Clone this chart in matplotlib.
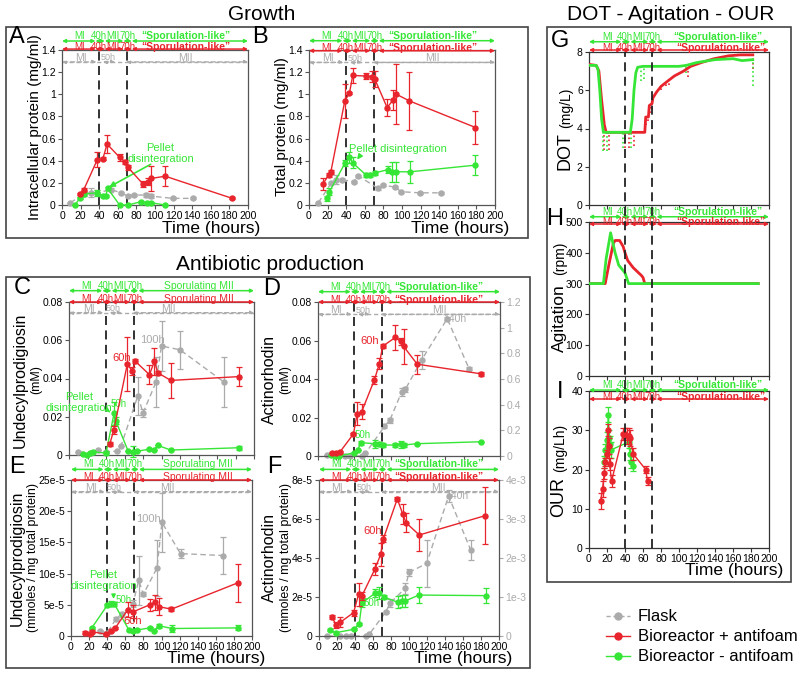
import matplotlib
matplotlib.use('Agg')
import matplotlib.pyplot as plt
import matplotlib.transforms as mtransforms
from matplotlib.lines import Line2D
from matplotlib.patches import Rectangle

plt.rcParams['font.family'] = ['Liberation Sans', 'DejaVu Sans']

W, H = 800, 675
RED = '#e8242c'
GREEN = '#36e636'
GRAY = '#ababab'
SPINE = '#555555'

# ---------------- data ----------------
# A: intracellular protein (mg/ml)
a_red_t = [19, 23.5, 38, 44, 48.5, 62, 68, 71, 87, 92, 96, 111, 183]
a_red_v = [0.10, 0.14, 0.41, 0.42, 0.55, 0.43, 0.39, 0.34, 0.19, 0.21, 0.24, 0.26, 0.06]
a_red_e = [0.01, 0.01, 0.07, 0.01, 0.08, 0.03, 0.02, 0.02, 0.03, 0.03, 0.11, 0.09, 0.01]
a_grn_t = [14, 19, 24, 38, 44, 47, 49, 62, 71, 85, 91, 96, 111]
a_grn_v = [0.0, 0.06, 0.10, 0.11, 0.08, 0.08, 0.15, 0.0, 0.0, 0.03, 0.02, 0.02, 0.0]
a_grn_e = [0.0, 0.01, 0.02, 0.03, 0.01, 0.01, 0.01, 0.0, 0.0, 0.01, 0.01, 0.01, 0.0]
a_fl_t = [9, 23.5, 31, 38, 53, 63, 71, 77, 90, 96, 119, 141]
a_fl_v = [0.02, 0.10, 0.11, 0.11, 0.14, 0.11, 0.08, 0.09, 0.09, 0.08, 0.06, 0.06]
a_fl_e = [0.0, 0.02, 0.04, 0.03, 0.01, 0.01, 0.01, 0.01, 0.02, 0.02, 0.01, 0.01]

# B: total protein (mg/ml)
b_red_t = [15, 21, 23.5, 38.5, 43.5, 47, 61, 68, 70.6, 84, 90.6, 94, 108, 179]
b_red_v = [0.19, 0.27, 0.30, 0.94, 1.01, 1.17, 1.165, 1.16, 1.14, 0.88, 0.95, 1.0, 0.94, 0.70]
b_red_e = [0.05, 0.02, 0.02, 0.15, 0.01, 0.07, 0.03, 0.05, 0.07, 0.08, 0.09, 0.27, 0.26, 0.15]
b_grn_t = [19, 22, 38.8, 43.5, 47, 61.5, 66, 71, 85, 89, 93.8, 109, 179]
b_grn_v = [0.06, 0.12, 0.38, 0.43, 0.38, 0.27, 0.27, 0.29, 0.32, 0.30, 0.30, 0.30, 0.36]
b_grn_e = [0.02, 0.03, 0.03, 0.05, 0.05, 0.02, 0.02, 0.02, 0.03, 0.09, 0.09, 0.10, 0.09]
b_fl_t = [10, 24, 29, 35, 48, 53, 74, 80, 93, 99, 119, 142]
b_fl_v = [0.02, 0.20, 0.23, 0.23, 0.21, 0.265, 0.15, 0.18, 0.16, 0.12, 0.11, 0.11]
b_fl_e = [0.0, 0.01, 0.04, 0.01, 0.01, 0.01, 0.01, 0.01, 0.01, 0.01, 0.01, 0.01]

# C: undecylprodigiosin (mM)
c_red_t = [44, 48.4, 63, 68.5, 71.7, 87, 92.3, 96, 110, 184]
c_red_v = [0.0056, 0.013, 0.0475, 0.044, 0.049, 0.042, 0.049, 0.043, 0.039, 0.041]
c_red_e = [0.001, 0.002, 0.014, 0.002, 0.001, 0.005, 0.007, 0.001, 0.009, 0.005]
c_grn_t = [15, 19, 22.6, 25.5, 40, 48.7, 50.5, 64, 69, 74, 86.5, 91.7, 96, 110, 184]
c_grn_v = [0.0005, 0.0, 0.001, 0.0017, 0.001, 0.0217, 0.018, 0.002, 0.0017, 0.002, 0.003, 0.0026, 0.005, 0.0026, 0.0038]
c_grn_e = [0, 0, 0, 0, 0.001, 0.006, 0.002, 0, 0.003, 0, 0, 0, 0, 0, 0.001]
c_fl_t = [10, 24, 31, 40, 52, 56, 74.5, 80, 94, 100, 120, 168]
c_fl_v = [0.0017, 0.001, 0.0026, 0.0016, 0.002, 0.0045, 0.031, 0.022, 0.038, 0.057, 0.055, 0.038]
c_fl_e = [0, 0, 0, 0, 0, 0, 0.010, 0.002, 0.013, 0.013, 0.010, 0.013]

# D: actinorhodin (mM); flask on right axis
d_red_t = [15, 20, 24, 39, 43, 48, 62, 67.5, 71, 85, 90.7, 94, 109, 179]
d_red_v = [0.0014, 0.0017, 0.002, 0.0115, 0.022, 0.023, 0.0396, 0.048, 0.057, 0.0616, 0.0595, 0.057, 0.0477, 0.0427]
d_red_e = [0.0005, 0.0005, 0.0005, 0.0005, 0.006, 0.004, 0.002, 0.003, 0.001, 0.0065, 0.002, 0.009, 0.005, 0.001]
d_grn_t = [14.6, 19, 23, 40, 43.5, 47, 63, 67, 71, 85, 90.7, 94, 109, 179]
d_grn_v = [0.0003, 0.0, 0.0, 0.0017, 0.003, 0.0069, 0.0064, 0.0064, 0.0057, 0.0057, 0.006, 0.0057, 0.0064, 0.0074]
d_grn_e = [0, 0, 0, 0, 0, 0.001, 0.002, 0.001, 0.001, 0.001, 0.002, 0.001, 0, 0]
d_fl_t = [10, 24, 30, 35, 48, 52, 73, 79, 92, 96, 114, 142, 166]
d_fl_v = [0.005, 0.005, 0.0, 0.0, 0.0, 0.02, 0.23, 0.28, 0.50, 0.52, 0.75, 1.07, 0.68]
d_fl_e = [0, 0, 0, 0, 0, 0, 0.01, 0.02, 0.03, 0.02, 0.07, 0.01, 0.01]

# E: undecylprodigiosin (mmoles / mg total protein), values in units of 1e-5
e_red_t = [15, 20.6, 23, 39, 44.6, 49, 62.6, 69, 87, 92.5, 97, 111, 184]
e_red_v = [0.53, 0.3, 0.7, 0.27, 0.85, 1.3, 4.2, 3.9, 5.0, 5.4, 4.7, 4.3, 8.5]
e_red_e = [0.2, 0.1, 0.2, 0.1, 0.2, 0.2, 1.2, 1.0, 1.0, 1.2, 1.4, 0.3, 3.0]
e_grn_t = [23, 40, 44.6, 48, 64, 69, 73, 87, 92, 97, 111.6, 184]
e_grn_v = [1.3, 4.9, 5.2, 5.1, 0.96, 0.8, 0.96, 1.3, 0.85, 1.65, 1.2, 1.3]
e_grn_e = [0.1, 0.3, 0.4, 0.3, 0.1, 0.1, 0.1, 0.1, 0.1, 0.3, 0.5, 0.4]
e_fl_t = [32, 40, 50, 56, 68.5, 74.8, 80, 95, 100.5, 121, 168]
e_fl_v = [0.8, 0.5, 2.8, 3.5, 5.2, 8.9, 6.7, 10.9, 18.2, 13.2, 12.9]
e_fl_e = [0.1, 0.1, 0.3, 0.4, 0.5, 4.0, 0.3, 4.5, 4.7, 0.7, 2.9]

# F: actinorhodin (mmoles / mg total protein), left in 1e-5, flask right in 1e-3
f_red_t = [14.4, 19, 23.6, 38.4, 44, 47.6, 62, 68.6, 71.6, 87, 93, 96.7, 111.4, 184.5]
f_red_v = [0.99, 0.55, 0.7, 1.2, 2.14, 2.05, 3.42, 4.19, 5.0, 7.03, 6.26, 5.81, 5.18, 6.17]
f_red_e = [0.1, 0.15, 0.25, 0.15, 0.6, 0.2, 0.3, 0.6, 0.2, 0.1, 0.5, 0.5, 0.8, 1.45]
f_grn_t = [12, 18.5, 38.4, 44.6, 47.6, 62, 66.8, 72, 87.5, 92, 96, 111, 185]
f_grn_v = [0.3, 0.17, 0.34, 0.6, 1.68, 2.19, 2.22, 2.0, 1.73, 1.8, 1.8, 2.1, 2.07]
f_grn_e = [0.05, 0.05, 0.05, 0.05, 0.2, 0.2, 0.3, 0.1, 0.3, 0.3, 0.3, 0.4, 0.4]
f_fl_t = [9, 23, 30, 35, 52, 56, 74, 79, 95.6, 100, 119.6, 144, 168.6]
f_fl_v = [0.0, 0.0, 0.0, 0.0, 0.0, 0.05, 0.61, 0.84, 1.22, 1.63, 1.86, 3.59, 2.2]
f_fl_e = [0, 0, 0, 0, 0, 0, 0.03, 0.1, 0.15, 0.08, 0.6, 0.15, 0.25]

# G: DOT (mg/L)
g_red_t = [0, 8, 11, 14, 17, 19, 62, 63, 66, 67, 70, 71, 75, 80, 88, 95, 105, 113, 125, 139, 155, 168, 182]
g_red_v = [7.35, 7.3, 7.0, 5.5, 4.2, 3.8, 3.8, 4.6, 4.6, 5.2, 5.3, 5.6, 5.9, 6.2, 6.5, 6.75, 7.0, 7.25, 7.45, 7.65, 7.8, 7.85, 7.85]
g_grn_t = [0, 8, 10, 12, 14, 16, 46, 48, 50, 52, 54, 60, 80, 100, 108, 120, 140, 160, 170, 182]
g_grn_v = [7.3, 7.3, 7.1, 6.0, 4.5, 3.8, 3.8, 4.5, 6.0, 6.9, 7.2, 7.25, 7.25, 7.25, 7.3, 7.45, 7.6, 7.65, 7.55, 7.6]
g_red_sp_t = [17, 22, 40, 44, 50, 63, 66, 68, 70, 80, 85, 89, 110, 182]
g_red_sp_lo = [2.9, 2.9, 3.0, 3.0, 3.1, 4.2, 4.4, 4.8, 5.0, 6.0, 6.2, 6.3, 6.7, 7.1]
g_red_sp_hi = [3.8, 3.8, 3.8, 3.8, 3.8, 4.6, 4.6, 5.2, 5.4, 6.2, 6.4, 6.55, 7.05, 7.85]
g_grn_sp_t = [16, 20, 38, 47, 58, 61, 108, 182]
g_grn_sp_lo = [2.8, 2.8, 3.0, 3.0, 6.5, 6.6, 6.9, 6.2]
g_grn_sp_hi = [3.8, 3.8, 3.8, 3.8, 7.25, 7.25, 7.3, 7.6]

# H: agitation (rpm)
h_red_t = [0, 18, 22, 27, 29, 34, 38, 40, 43, 49, 54, 58, 60, 62, 188]
h_red_v = [300, 300, 360, 430, 440, 440, 420, 400, 375, 352, 338, 327, 320, 300, 300]
h_grn_t = [0, 16, 19, 24, 29, 33, 40, 44, 188]
h_grn_v = [300, 300, 380, 465, 400, 360, 335, 300, 300]

# I: OUR (mg/Lh)
i_red_t = [13, 15, 17, 18, 20, 21, 22, 23, 25, 38, 40, 42, 44, 46, 49, 63, 65]
i_red_v = [12, 15, 19, 22, 24, 30, 26, 21.5, 17, 29, 29, 28.5, 28.5, 28, 24, 20, 17]
i_red_e = [2, 2, 1.5, 1, 1, 1.5, 2, 1.5, 1.5, 1.5, 1.5, 2, 2, 2, 1.5, 1, 1]
i_grn_t = [17, 18, 20, 21.5, 22.5, 23.5, 24.5, 44, 45.5, 47, 49]
i_grn_v = [22, 25, 27.5, 34, 28, 26.5, 25, 27, 24, 22, 21]
i_grn_e = [1.5, 1.5, 2, 1.8, 2, 2, 2, 1.5, 1.5, 1.5, 1.5]

# phase labels
ph_std = ['MI', '40h', 'MII', '70h', '\u201cSporulation-like\u201d']
ph_upd = ['MI', '40h', 'MII', '70h', 'Sporulating MII']
ph_flask = ['MI', '50h', 'MII']

# ---------------- helpers ----------------
fig = plt.figure(figsize=(8, 6.75), dpi=100)
TICK_FS = 7.5


def add_ax(x0, y0, x1, y1):
    return fig.add_axes([x0 / W, 1 - y1 / H, (x1 - x0) / W, (y1 - y0) / H])


def style(ax, yticks, ylabels, xlabels=True, spine=SPINE):
    ax.set_xlim(0, 200)
    ax.set_xticks(range(0, 201, 20))
    if not xlabels:
        ax.set_xticklabels([])
    ax.set_yticks(yticks)
    ax.set_yticklabels(ylabels)
    ax.set_ylim(yticks[0], yticks[-1])
    for s in ax.spines.values():
        s.set_color(spine)
        s.set_linewidth(0.9)
    ax.tick_params(labelsize=TICK_FS, length=3, width=0.8, color=spine, pad=1.5)


def series(ax, t, v, e, color, dashed=False, z=3, ms=3.6):
    kw = dict(color=color, lw=1.0, marker='o', ms=ms, mec=color, capsize=2,
              elinewidth=0.9, capthick=0.9, zorder=z, clip_on=False)
    if dashed:
        kw['ls'] = (0, (4, 2.5))
    ax.errorbar(t, v, yerr=e, **kw)


def row(ax, y, color, segs, labels, dy, ls='-'):
    tr = mtransforms.blended_transform_factory(ax.transData, ax.transAxes)
    for a, b in segs:
        ax.annotate('', xy=(b, y), xytext=(a, y), xycoords=tr, textcoords=tr,
                    arrowprops=dict(arrowstyle='<|-|>', color=color, lw=1.1, ls=ls,
                                    shrinkA=0, shrinkB=0, mutation_scale=5),
                    annotation_clip=False)
    n = len(labels)
    for i, (x, s) in enumerate(labels):
        last = (i == n - 1)
        w = 'bold' if (last and s.startswith('\u201c')) else 'normal'
        ax.annotate(s, xy=(x, y), xycoords=tr, xytext=(0, dy), textcoords='offset points',
                    ha='center', va='center', color=color, fontsize=7.5 if last else 7,
                    fontweight=w, annotation_clip=False)


SEGS = [(0, 36), (36, 46), (46, 66), (66, 75), (75, 200)]
POS_STD = (19, 39.5, 55, 70.5, 133)
POS_UPD = (19, 39.5, 55, 70.5, 140)
POS_DOT_G = (21, 39.5, 55.5, 71, 143)
POS_DOT_R = (21, 39.5, 55.5, 71, 147)


def phases(ax, yg, yr, yf, names, pos=POS_STD):
    labs = list(zip(pos, names))
    row(ax, yg, GREEN, SEGS, labs, 3.6)
    row(ax, yr, RED, SEGS, labs, 1.8)
    fsegs = [(0, 37), (44, 57), (69, 200)]
    fpos = [20, 50, 133] if names[-1].startswith('\u201c') else [22, 48, 107]
    tr = mtransforms.blended_transform_factory(ax.transData, ax.transAxes)
    for a, b in fsegs:
        ax.annotate('', xy=(b, yf), xytext=(a, yf), xycoords=tr, textcoords=tr,
                    arrowprops=dict(arrowstyle='<|-|>', color=GRAY, lw=1.0, ls=(0, (3, 2)),
                                    shrinkA=0, shrinkB=0, mutation_scale=5),
                    annotation_clip=False)
    ax.plot([0, 200], [yf, yf], transform=tr, color=GRAY, lw=1.0, ls=(0, (3, 2)), clip_on=False)
    for x, s in zip(fpos, ph_flask):
        ax.annotate(s, xy=(x, yf), xycoords=tr, xytext=(0, 3), textcoords='offset points',
                    ha='center', va='center', color=GRAY,
                    fontsize=6.5 if s == '50h' else 7.5, annotation_clip=False)


def vdash(ax):
    for x in (40, 70):
        ax.axvline(x, color='#222222', lw=1.3, ls=(0, (5, 3)), zorder=2)


def ylab(xpx, ypx, text, fs):
    fig.text(xpx / W, 1 - ypx / H, text, rotation=90, ha='center', va='center', fontsize=fs)


def xlab(rightpx, ypx):
    fig.text(rightpx / W, 1 - ypx / H, 'Time (hours)', ha='right', va='center', fontsize=12.5)


def letter(xpx, ypx, s):
    fig.text(xpx / W, 1 - ypx / H, s, ha='center', va='center', fontsize=17)


def right_axis(ax, lim, ticks, labels):
    ax2 = ax.twinx()
    ax2.set_ylim(*lim)
    ax2.set_yticks(ticks)
    ax2.set_yticklabels(labels)
    ax2.tick_params(labelsize=TICK_FS, length=3, width=0.8, color=GRAY, labelcolor=GRAY, pad=1.5)
    for s in ax2.spines.values():
        s.set_visible(False)
    return ax2


# ---------------- frames & titles ----------------
for (x0, y0, x1, y1) in [(6, 27, 528, 238), (6, 277, 530, 668), (547, 27, 791, 582)]:
    fig.add_artist(Rectangle((x0 / W, 1 - y1 / H), (x1 - x0) / W, (y1 - y0) / H,
                             transform=fig.transFigure, fill=False, ec='#444444', lw=1.2))
fig.text(262 / W, 1 - 15 / H, 'Growth', ha='center', va='center', fontsize=15)
fig.text(270 / W, 1 - 265 / H, 'Antibiotic production', ha='center', va='center', fontsize=15)
fig.text(671 / W, 1 - 15 / H, 'DOT - Agitation - OUR', ha='center', va='center', fontsize=15)

# ---------------- A ----------------
axA = add_ax(62, 50, 248, 205)
style(axA, [0, 0.2, 0.4, 0.6, 0.8, 1.0, 1.2, 1.4], ['0', '0.2', '0.4', '0.6', '0.8', '1', '1.2', '1.4'])
vdash(axA)
series(axA, a_fl_t, a_fl_v, a_fl_e, GRAY, dashed=True, z=3)
series(axA, a_grn_t, a_grn_v, a_grn_e, GREEN, z=4)
series(axA, a_red_t, a_red_v, a_red_e, RED, z=5)
phases(axA, 1.058, 1.006, 0.923, ph_std)
axA.text(106, 0.465, 'Pellet\ndisintegration', color=GREEN, fontsize=8, ha='center', va='center', linespacing=1.1)
axA.annotate('', xy=(48, 0.15), xytext=(98, 0.38),
             arrowprops=dict(arrowstyle='-|>', color=GREEN, lw=1.2, mutation_scale=8))
ylab(35, 127, 'Intracellular protein (mg/ml)', 11)
xlab(260, 229)
letter(17, 37, 'A')

# ---------------- B ----------------
axB = add_ax(309, 50, 495, 205)
style(axB, [0, 0.2, 0.4, 0.6, 0.8, 1.0, 1.2, 1.4], ['0', '0.2', '0.4', '0.6', '0.8', '1', '1.2', '1.4'])
vdash(axB)
series(axB, b_fl_t, b_fl_v, b_fl_e, GRAY, dashed=True, z=3)
series(axB, b_grn_t, b_grn_v, b_grn_e, GREEN, z=4)
series(axB, b_red_t, b_red_v, b_red_e, RED, z=5)
phases(axB, 1.06, 0.995, 0.92, ph_std)
axB.text(96, 0.51, 'Pellet disintegration', color=GREEN, fontsize=8, ha='center', va='center')
axB.annotate('', xy=(50, 0.39), xytext=(57, 0.47),
             arrowprops=dict(arrowstyle='-|>', color=GREEN, lw=1.2, mutation_scale=7))
ylab(282, 127, 'Total protein (mg/ml)', 11)
xlab(509, 229)
letter(260, 37, 'B')

# ---------------- C ----------------
axC = add_ax(69, 302, 254, 455)
style(axC, [0, 0.02, 0.04, 0.06, 0.08], ['0', '0.02', '0.04', '0.06', '0.08'], xlabels=False)
vdash(axC)
series(axC, c_fl_t, c_fl_v, c_fl_e, GRAY, dashed=True, z=3)
series(axC, c_grn_t, c_grn_v, c_grn_e, GREEN, z=4)
series(axC, c_red_t, c_red_v, c_red_e, RED, z=5)
phases(axC, 1.074, 1.0, 0.93, ph_upd, pos=POS_UPD)
axC.text(11, 0.0275, 'Pellet\ndisintegration', color=GREEN, fontsize=8, ha='center', va='center',
         linespacing=1.1, clip_on=False)
axC.annotate('', xy=(47, 0.0215), xytext=(41, 0.0236),
             arrowprops=dict(arrowstyle='-|>', color=GREEN, lw=1.0, mutation_scale=6))
axC.text(54, 0.0268, '50h', color=GREEN, fontsize=7, ha='center', va='center')
axC.text(57, 0.0505, '60h', color=RED, fontsize=8, ha='center', va='center')
axC.text(90, 0.060, '100h', color=GRAY, fontsize=8, ha='center', va='center')
ylab(20, 380, 'Undecylprodigiosin', 11.5)
ylab(36, 380, '(mM)', 9)
letter(22, 288, 'C')

# ---------------- D ----------------
axD = add_ax(318, 302, 500, 456)
style(axD, [0, 0.02, 0.04, 0.06, 0.08], ['0', '0.02', '0.04', '0.06', '0.08'], xlabels=False)
axD2 = right_axis(axD, (0, 1.2), [0, 0.2, 0.4, 0.6, 0.8, 1.0, 1.2], ['0', '0.2', '0.4', '0.6', '0.8', '1', '1.2'])
vdash(axD)
series(axD2, d_fl_t, d_fl_v, d_fl_e, GRAY, dashed=True, z=3)
series(axD, d_grn_t, d_grn_v, d_grn_e, GREEN, z=4)
series(axD, d_red_t, d_red_v, d_red_e, RED, z=5)
axD.set_zorder(axD2.get_zorder() + 1)
axD.patch.set_visible(False)
phases(axD, 1.067, 1.0, 0.92, ph_std)
axD.text(57, 0.0600, '60h', color=RED, fontsize=8, ha='center', va='center')
axD.text(49, 0.0110, '50h', color=GREEN, fontsize=7, ha='center', va='center')
axD.text(150, 0.0714, '140h', color=GRAY, fontsize=7.5, ha='center', va='center')
ylab(269, 380, 'Actinorhodin', 11.5)
ylab(285, 380, '(mM)', 9)
letter(272, 289, 'D')

# ---------------- E ----------------
axE = add_ax(71, 480, 252, 636)
style(axE, [0, 5, 10, 15, 20, 25], ['0', '5e-5', '10e-5', '15e-5', '20e-5', '25e-5'])
vdash(axE)
series(axE, e_fl_t, e_fl_v, e_fl_e, GRAY, dashed=True, z=3)
series(axE, e_grn_t, e_grn_v, e_grn_e, GREEN, z=4)
series(axE, e_red_t, e_red_v, e_red_e, RED, z=5)
phases(axE, 1.068, 1.0, 0.925, ph_upd, pos=POS_UPD)
axE.text(36, 8.9, 'Pellet\ndisintegration', color=GREEN, fontsize=8, ha='center', va='center', linespacing=1.1)
axE.annotate('', xy=(47, 5.5), xytext=(47, 7.0),
             arrowprops=dict(arrowstyle='-|>', color=GREEN, lw=1.0, mutation_scale=6))
axE.text(58, 5.8, '50h', color=GREEN, fontsize=7, ha='center', va='center')
axE.text(68, 2.4, '60h', color=RED, fontsize=8, ha='center', va='center')
axE.text(86, 18.7, '100h', color=GRAY, fontsize=8, ha='center', va='center')
ylab(17, 558, 'Undecylprodigiosin', 11.5)
ylab(33, 558, '(mmoles / mg total protein)', 9)
xlab(265, 659)
letter(17, 467, 'E')

# ---------------- F ----------------
axF = add_ax(319, 480, 499, 636)
style(axF, [0, 2, 4, 6, 8], ['0', '2e-5', '4e-5', '6e-5', '8e-5'])
axF2 = right_axis(axF, (0, 4), [0, 1, 2, 3, 4], ['0', '1e-3', '2e-3', '3e-3', '4e-3'])
vdash(axF)
series(axF2, f_fl_t, f_fl_v, f_fl_e, GRAY, dashed=True, z=3)
series(axF, f_grn_t, f_grn_v, f_grn_e, GREEN, z=4)
series(axF, f_red_t, f_red_v, f_red_e, RED, z=5)
axF.set_zorder(axF2.get_zorder() + 1)
axF.patch.set_visible(False)
phases(axF, 1.068, 1.0, 0.925, ph_std)
axF.text(60, 5.4, '60h', color=RED, fontsize=8, ha='center', va='center')
axF.text(58, 1.68, '50h', color=GREEN, fontsize=7, ha='center', va='center')
axF.text(153, 7.2, '140h', color=GRAY, fontsize=7.5, ha='center', va='center')
ylab(269, 558, 'Actinorhodin', 11.5)
ylab(286, 558, '(mmoles / mg total protein)', 9)
xlab(512, 659)
letter(274, 467, 'F')

# ---------------- G ----------------
DARK = '#333333'
axG = add_ax(589, 52, 769, 205)
style(axG, [0, 2, 4, 6, 8], ['0', '2', '4', '6', '8'], xlabels=False, spine=DARK)
axG.vlines(g_red_sp_t, g_red_sp_lo, g_red_sp_hi, colors=RED, linestyles=':', lw=1.2, zorder=3)
axG.vlines(g_grn_sp_t, g_grn_sp_lo, g_grn_sp_hi, colors=GREEN, linestyles=':', lw=1.2, zorder=3)
axG.plot(g_red_t, g_red_v, color=RED, lw=2.0, zorder=4)
axG.plot(g_grn_t, g_grn_v, color=GREEN, lw=2.0, zorder=5)
row(axG, 1.067, GREEN, SEGS, list(zip(POS_DOT_G, ph_std)), 3.6)
row(axG, 1.013, RED, SEGS, list(zip(POS_DOT_R, ph_std)), 1.8)
ylab(565, 151, 'DOT', 13)
ylab(566, 108, '(mg/L)', 10)
letter(560, 41, 'G')

# ---------------- H ----------------
axH = add_ax(589, 222, 769, 376)
style(axH, [0, 100, 200, 300, 400, 500], ['0', '100', '200', '300', '400', '500'], xlabels=False, spine=DARK)
axH.plot(h_red_t, h_red_v, color=RED, lw=2.0, zorder=4)
axH.plot(h_grn_t, h_grn_v, color=GREEN, lw=2.0, zorder=5)
row(axH, 1.034, GREEN, SEGS, list(zip(POS_DOT_G, ph_std)), 3.6)
row(axH, 0.987, RED, SEGS, list(zip(POS_DOT_R, ph_std)), 1.8)
ylab(559, 318, 'Agitation', 12.5)
ylab(560, 258, '(rpm)', 10)
letter(555, 219, 'H')

# ---------------- I ----------------
axI = add_ax(589, 391, 769, 548)
style(axI, [0, 10, 20, 30, 40], ['0', '10', '20', '30', '40'], spine=DARK)
series(axI, i_grn_t, i_grn_v, i_grn_e, GREEN, z=4)
series(axI, i_red_t, i_red_v, i_red_e, RED, z=5)
row(axI, 1.006, GREEN, SEGS, list(zip(POS_DOT_G, ph_std)), 3.6)
row(axI, 0.949, RED, SEGS, list(zip(POS_DOT_R, ph_std)), 1.8)
ylab(559, 497, 'OUR', 13)
ylab(560, 448, '(mg/Lh)', 10)
xlab(783, 571)
letter(560, 392, 'I')

# dashed phase lines spanning G-I
for xh in (40, 70):
    xf = (589 + xh * 0.9) / W
    fig.add_artist(Line2D([xf, xf], [1 - 548 / H, 1 - 52 / H], transform=fig.transFigure,
                          color='#222222', lw=1.3, ls=(0, (5, 3)), zorder=1))

# ---------------- legend ----------------
handles = [Line2D([], [], color=GRAY, ls=(0, (3, 2)), marker='o', ms=5, lw=1),
           Line2D([], [], color=RED, marker='o', ms=5, lw=1),
           Line2D([], [], color=GREEN, marker='o', ms=5, lw=1)]
fig.legend(handles, ['Flask', 'Bioreactor + antifoam', 'Bioreactor - antifoam'],
           loc='upper left', bbox_to_anchor=(598 / W, 1 - 601 / H), frameon=False,
           fontsize=12, handlelength=1.4, labelspacing=0.3, borderpad=0, handletextpad=0.5)

fig.savefig('out.png', dpi=100)
